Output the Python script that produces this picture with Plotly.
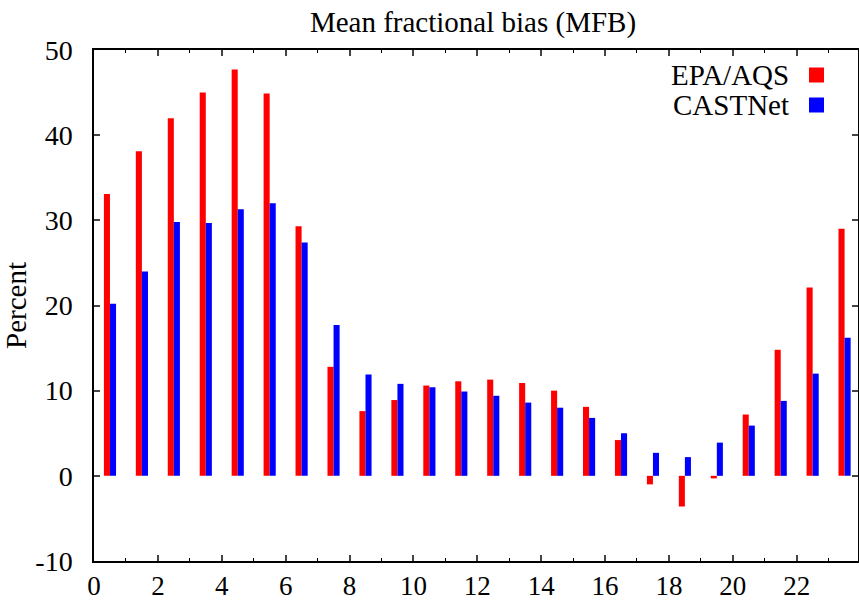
import plotly.graph_objects as go

hours = list(range(24))
epa_aqs = [33.1, 38.1, 42.0, 45.0, 47.7, 44.9, 29.3, 12.8, 7.6, 8.9, 10.6, 11.1,
           11.3, 10.9, 10.0, 8.1, 4.2, -1.0, -3.6, -0.3, 7.2, 14.8, 22.1, 29.0]
castnet = [20.2, 24.0, 29.8, 29.7, 31.3, 32.0, 27.4, 17.7, 11.9, 10.8, 10.4, 9.9,
           9.4, 8.6, 8.0, 6.8, 5.0, 2.7, 2.2, 3.9, 5.9, 8.8, 12.0, 16.2]
x_ticks = list(range(0, 24, 2))
y_ticks = list(range(-10, 51, 10))
y_tick_text = [str(v) for v in y_ticks]

FONT = "Liberation Serif"

fig = go.Figure()
fig.add_trace(go.Bar(x=hours, y=epa_aqs, name="EPA/AQS", offset=0.31, width=0.19,
                     marker=dict(color="#ff0000", line=dict(width=0)), showlegend=False))
fig.add_trace(go.Bar(x=hours, y=castnet, name="CASTNet", offset=0.5, width=0.19,
                     marker=dict(color="#0000ff", line=dict(width=0)), showlegend=False))

# legend (gnuplot style: text then key on the right)
legend_items = [("EPA/AQS", "#ff0000", 75), ("CASTNet", "#0000ff", 105)]
for label, col, yc in legend_items:
    fig.add_annotation(text=label, xref="paper", yref="paper",
                       x=(791 - 94) / 764, y=(561 - yc) / 511, xanchor="right", yanchor="middle",
                       showarrow=False, font=dict(family=FONT, size=29, color="black"))
    fig.add_shape(type="rect", xref="paper", yref="paper",
                  x0=(809 - 94) / 764, x1=(824 - 94) / 764,
                  y0=(561 - yc - 7.5) / 511, y1=(561 - yc + 7.5) / 511,
                  fillcolor=col, line=dict(width=0))

fig.update_layout(
    width=859, height=603,
    margin=dict(l=94, r=1, t=50, b=42, autoexpand=False),
    plot_bgcolor="white", paper_bgcolor="white",
    barmode="overlay",
    font=dict(family=FONT, size=28, color="black"),
    title=dict(text="Mean fractional bias (MFB)", x=(312 + 634) / 2 / 859, xanchor="center",
               y=1 - 22 / 603, yanchor="middle", font=dict(family=FONT, size=29, color="black")),
    xaxis=dict(range=[0, 23.92], tickvals=x_ticks, ticks="inside", ticklen=6, tickwidth=1.5,
               showline=True, linecolor="black", linewidth=1.5, mirror="ticks",
               showgrid=False, zeroline=False, ticklabelstandoff=0, automargin=False,
               minor=dict(ticks="inside", dtick=1, ticklen=3, tickwidth=1.2, tickcolor="black", showgrid=False),
               tickfont=dict(family=FONT, size=27, color="black")),
    yaxis=dict(range=[-10, 50], tickvals=y_ticks, ticktext=y_tick_text, ticks="inside", ticklen=6, tickwidth=1.5,
               showline=True, linecolor="black", linewidth=1.5, mirror="ticks",
               showgrid=False, zeroline=False, ticklabelstandoff=14, automargin=False,
               title=dict(text="Percent", standoff=8, font=dict(family=FONT, size=29, color="black")),
               tickfont=dict(family=FONT, size=28, color="black")),
)

fig.write_html("out.html")
